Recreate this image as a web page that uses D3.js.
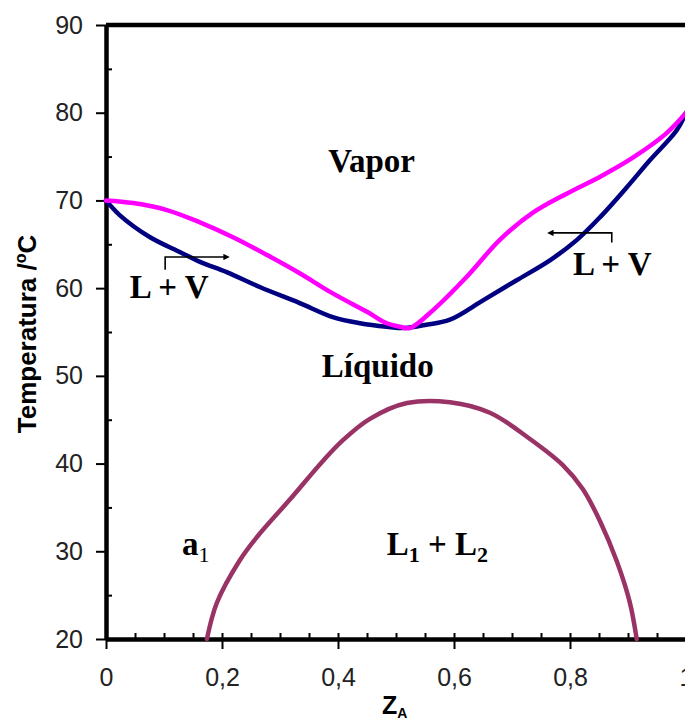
<!DOCTYPE html>
<html>
<head>
<meta charset="utf-8">
<script src="https://cdn.jsdelivr.net/npm/d3@7"></script>
<style>
  body { margin: 0; background: #fff; }
  svg { display: block; }
</style>
</head>
<body>
<script>
const width = 685
const height = 720

// liquid curve (boiling), blue
const liqZ = [0, 0.024, 0.076, 0.128, 0.162, 0.209, 0.266, 0.334, 0.391, 0.438, 0.484, 0.515, 0.55, 0.593, 0.65, 0.708, 0.766, 0.812, 0.852, 0.898, 0.938, 0.984, 1]
const liqT = [70, 68.3, 65.8, 64.1, 63.0, 61.8, 60.1, 58.3, 56.7, 56.0, 55.6, 55.45, 55.8, 56.4, 58.6, 60.9, 63.2, 65.5, 68.1, 71.5, 74.6, 78.0, 80]

// vapour curve (dew), magenta
const vapZ = [0, 0.047, 0.105, 0.162, 0.219, 0.277, 0.334, 0.391, 0.45, 0.484, 0.507, 0.524, 0.564, 0.622, 0.679, 0.736, 0.795, 0.852, 0.909, 0.967, 1]
const vapT = [70, 69.7, 68.9, 67.5, 65.8, 63.8, 61.7, 59.4, 57.3, 56.0, 55.6, 55.45, 57.5, 61.3, 65.5, 68.6, 70.8, 72.7, 74.9, 77.7, 80]

// liquid-liquid miscibility dome
const domeZ = [0.174, 0.191, 0.231, 0.26, 0.317, 0.374, 0.409, 0.455, 0.519, 0.593, 0.662, 0.731, 0.788, 0.822, 0.852, 0.881, 0.903, 0.915]
const domeT = [20, 24.1, 29.0, 31.6, 35.9, 40.3, 42.7, 45.1, 46.9, 47.0, 45.8, 42.8, 39.8, 37.1, 33.4, 28.8, 24.2, 20]

const xTicks = [0, 0.2, 0.4, 0.6, 0.8, 1]
const yTicks = [20, 30, 40, 50, 60, 70, 80, 90]

// region labels: text parts ([string, isSub]) placed at (z, T)
const labels = [
  { parts: [['Vapor', false]], z: 0.383, t: 73.2 },
  { parts: [['Líquido', false]], z: 0.372, t: 49.9 },
  { parts: [['L + V', false]], z: 0.041, t: 58.9 },
  { parts: [['L + V', false]], z: 0.805, t: 61.5 },
  { parts: [['a', false], ['1', true]], z: 0.131, t: 29.6, light: true },
  { parts: [['L', false], ['1', true], [' + L', false], ['2', true]], z: 0.484, t: 29.6 }
]

// tie-line arrows: bracket start, arrow tip
const arrows = [
  { z0: 0.102, z1: 0.209, t: 63.55, tDrop: 62.1 },
  { z0: 0.872, z1: 0.765, t: 66.3, tDrop: 65.2 }
]

const svg = d3.select('body').append('svg')
  .attr('width', width)
  .attr('height', height)

const x = d3.scaleLinear().domain([0, 1]).range([106, 686])
const y = d3.scaleLinear().domain([20, 90]).range([639, 25])

const fmt = d => (d === 0 || d === 1) ? String(d) : d.toFixed(1).replace('.', ',')

// top frame line
svg.append('line')
  .attr('x1', x(0)).attr('x2', x(1))
  .attr('y1', y(90)).attr('y2', y(90))
  .attr('stroke', '#000').attr('stroke-width', 4.5)

// minor ticks (inside)
svg.append('g')
  .attr('transform', `translate(${x(0)},0)`)
  .call(d3.axisRight(y).tickValues(d3.range(25, 90, 10)).tickSize(6).tickFormat(''))
  .call(g => g.select('.domain').remove())
  .selectAll('line').attr('stroke-width', 2)

svg.append('g')
  .attr('transform', `translate(0,${y(20)})`)
  .call(d3.axisTop(x).tickValues(d3.range(0.05, 1, 0.05)).tickSize(6).tickFormat(''))
  .call(g => g.select('.domain').remove())
  .selectAll('line').attr('stroke-width', 2)

// major axes
const yAxis = svg.append('g')
  .attr('transform', `translate(${x(0)},0)`)
  .call(d3.axisLeft(y).tickValues(yTicks).tickSize(10).tickSizeOuter(0).tickPadding(13).tickFormat(d => d))

const xAxis = svg.append('g')
  .attr('transform', `translate(0,${y(20)})`)
  .call(d3.axisBottom(x).tickValues(xTicks).tickSize(10).tickSizeOuter(0).tickPadding(19).tickFormat(fmt))

for (const g of [yAxis, xAxis]) {
  g.select('.domain').attr('stroke-width', 4.5)
  g.selectAll('.tick line').attr('stroke-width', 2)
  g.selectAll('.tick text')
    .attr('font-family', 'Liberation Sans, Arial, sans-serif')
    .attr('font-size', 25)
    .attr('fill', '#222')
}

// curves
const line = d3.line()
  .x(d => x(d[0]))
  .y(d => y(d[1]))
  .curve(d3.curveCatmullRom)

const series = [
  { z: domeZ, t: domeT, color: '#993366' },
  { z: liqZ, t: liqT, color: '#000080' },
  { z: vapZ, t: vapT, color: '#ff00ff' }
]

svg.append('g').selectAll('path')
  .data(series)
  .join('path')
  .attr('d', s => line(d3.zip(s.z, s.t)))
  .attr('fill', 'none')
  .attr('stroke', s => s.color)
  .attr('stroke-width', 4.5)
  .attr('stroke-linejoin', 'round')
  .attr('stroke-linecap', 'round')

// arrows
svg.append('defs').append('marker')
  .attr('id', 'head')
  .attr('viewBox', '0 0 10 10')
  .attr('refX', 6).attr('refY', 5)
  .attr('markerWidth', 4).attr('markerHeight', 4)
  .attr('orient', 'auto')
  .append('path')
  .attr('d', 'M0,0 L10,5 L0,10 z')
  .attr('fill', '#000')

svg.append('g').selectAll('path')
  .data(arrows)
  .join('path')
  .attr('d', a => `M${x(a.z0)},${y(a.tDrop)} L${x(a.z0)},${y(a.t)} L${x(a.z1)},${y(a.t)}`)
  .attr('fill', 'none')
  .attr('stroke', '#000')
  .attr('stroke-width', 1.6)
  .attr('marker-end', 'url(#head)')

// region labels
const lt = svg.append('g').selectAll('text')
  .data(labels)
  .join('text')
  .attr('x', d => x(d.z))
  .attr('y', d => y(d.t))
  .attr('font-family', 'Liberation Serif, Times New Roman, serif')
  .attr('font-weight', 'bold')
  .attr('font-size', 33)
  .attr('fill', '#000')

lt.each(function (d) {
  const t = d3.select(this)
  let shifted = false
  for (const [str, sub] of d.parts) {
    const ts = t.append('tspan').text(str)
    if (sub) {
      ts.attr('font-size', 22).attr('dy', 7)
      if (d.light) ts.attr('font-weight', 'normal')
      shifted = true
    } else if (shifted) {
      ts.attr('dy', -7)
      shifted = false
    }
  }
})

// axis titles
const yt = svg.append('text')
  .attr('transform', `translate(36,${(y(20) + y(90)) / 2 + 2}) rotate(-90)`)
  .attr('text-anchor', 'middle')
  .attr('font-family', 'Liberation Sans, Arial, sans-serif')
  .attr('font-weight', 'bold')
  .attr('font-size', 26)
yt.append('tspan').text('Temperatura /')
yt.append('tspan').text('o').attr('font-size', 16).attr('dy', -10)
yt.append('tspan').text('C').attr('dy', 10)

const xt = svg.append('text')
  .attr('x', 382)
  .attr('y', 714)
  .attr('font-family', 'Liberation Sans, Arial, sans-serif')
  .attr('font-weight', 'bold')
  .attr('font-size', 25)
xt.append('tspan').text('Z')
xt.append('tspan').text('A').attr('font-size', 14).attr('dy', 4)
</script>
</body>
</html>
